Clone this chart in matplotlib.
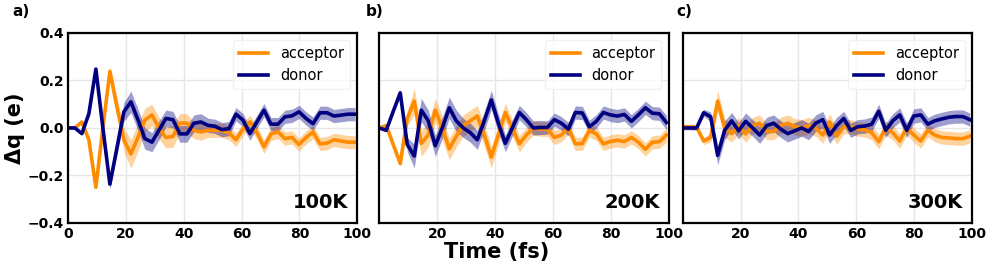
import numpy as np
import matplotlib
matplotlib.use('Agg')
import matplotlib.pyplot as plt

# time axis: 42 snapshots, 100 a.u. (2.42 fs) apart
time = np.arange(42) * 2.42

acc_100 = [0.0, 0.0, 0.025, -0.05, -0.25, 0.0, 0.238, 0.09, -0.05, -0.11,
           -0.04, 0.033, 0.055, 0.0, -0.04, -0.036, 0.021, 0.02, -0.01, -0.017,
           -0.01, -0.01, -0.01, -0.02, -0.05, -0.005, 0.026, -0.02, -0.08, -0.025,
           -0.017, -0.045, -0.04, -0.07, -0.04, -0.017, -0.067, -0.064, -0.05, -0.055,
           -0.06, -0.06]
don_100 = [0.0, 0.0, -0.024, 0.06, 0.248, 0.0, -0.237, -0.085, 0.068, 0.11,
           0.035, -0.045, -0.06, -0.01, 0.04, 0.035, -0.025, -0.025, 0.02, 0.025,
           0.011, 0.007, -0.007, -0.003, 0.058, 0.033, -0.024, 0.026, 0.075, 0.016,
           0.016, 0.047, 0.051, 0.068, 0.04, 0.018, 0.064, 0.064, 0.05, 0.054,
           0.058, 0.058]
acc_200 = [0.0, 0.01, -0.07, -0.15, 0.04, 0.113, -0.065, -0.03, 0.075, 0.0,
           -0.088, -0.035, 0.01, 0.03, 0.05, -0.03, -0.123, -0.03, 0.065, 0.0,
           -0.067, -0.03, 0.0, -0.005, -0.005, -0.04, -0.03, 0.0, -0.067, -0.066,
           -0.01, -0.025, -0.067, -0.057, -0.052, -0.057, -0.04, -0.06, -0.09, -0.06,
           -0.058, -0.03]
don_200 = [0.0, -0.01, 0.07, 0.148, -0.07, -0.118, 0.075, 0.03, -0.075, 0.0,
           0.085, 0.03, 0.0, -0.02, -0.05, 0.03, 0.118, 0.02, -0.065, 0.0,
           0.065, 0.035, 0.0, 0.002, 0.002, 0.035, 0.02, -0.005, 0.065, 0.063,
           0.005, 0.028, 0.065, 0.055, 0.05, 0.057, 0.028, 0.055, 0.085, 0.062,
           0.06, 0.023]
acc_300 = [0.005, 0.005, 0.003, -0.055, -0.04, 0.113, 0.0, -0.024, 0.01, -0.025,
           0.01, 0.02, -0.014, -0.015, 0.01, 0.02, 0.005, 0.0, 0.01, 0.0,
           -0.03, 0.025, -0.035, 0.005, 0.005, -0.005, -0.008, -0.02, -0.058, 0.0,
           -0.02, -0.055, 0.0, -0.03, -0.055, -0.01, -0.03, -0.04, -0.042, -0.045,
           -0.045, -0.035]
don_300 = [0.0, 0.0, 0.0, 0.064, 0.047, -0.116, -0.01, 0.03, -0.012, 0.028,
           0.0, -0.03, 0.01, 0.02, -0.005, -0.024, -0.012, 0.0, -0.015, 0.02,
           0.035, -0.03, 0.01, 0.04, -0.01, 0.005, 0.008, 0.016, 0.07, -0.01,
           0.03, 0.055, -0.01, 0.05, 0.055, 0.016, 0.03, 0.038, 0.045, 0.048,
           0.048, 0.035]

# spread (std) of the ensemble
acc_100_err = [0.004, 0.004, 0.005, 0.006, 0.01, 0.02, 0.025, 0.04, 0.05, 0.06,
               0.06, 0.05, 0.045, 0.045, 0.045, 0.045, 0.04, 0.04, 0.035, 0.035,
               0.03, 0.03, 0.03, 0.03, 0.028, 0.028, 0.028, 0.028, 0.028, 0.028,
               0.028, 0.028, 0.028, 0.028, 0.028, 0.028, 0.028, 0.028, 0.028, 0.028,
               0.028, 0.028]
don_100_err = [0.004, 0.004, 0.005, 0.006, 0.01, 0.015, 0.02, 0.03, 0.04, 0.045,
               0.045, 0.045, 0.04, 0.04, 0.035, 0.035, 0.035, 0.035, 0.035, 0.035,
               0.03, 0.03, 0.03, 0.03, 0.028, 0.028, 0.028, 0.028, 0.028, 0.028,
               0.028, 0.028, 0.028, 0.028, 0.028, 0.028, 0.028, 0.028, 0.028, 0.028,
               0.028, 0.028]
acc_200_err = [0.004, 0.005, 0.008, 0.012, 0.03, 0.055, 0.055, 0.05, 0.05, 0.05,
               0.045, 0.045, 0.045, 0.045, 0.045, 0.045, 0.045, 0.04, 0.04, 0.035,
               0.035, 0.03, 0.03, 0.03, 0.03, 0.03, 0.028, 0.028, 0.028, 0.028,
               0.028, 0.028, 0.028, 0.028, 0.028, 0.028, 0.028, 0.028, 0.028, 0.028,
               0.028, 0.03]
don_200_err = [0.004, 0.005, 0.008, 0.012, 0.03, 0.05, 0.05, 0.045, 0.045, 0.045,
               0.045, 0.045, 0.04, 0.04, 0.04, 0.04, 0.04, 0.04, 0.035, 0.035,
               0.03, 0.03, 0.03, 0.03, 0.028, 0.028, 0.028, 0.028, 0.028, 0.028,
               0.028, 0.028, 0.028, 0.028, 0.028, 0.028, 0.028, 0.028, 0.028, 0.028,
               0.028, 0.03]
acc_300_err = [0.008, 0.008, 0.01, 0.015, 0.02, 0.045, 0.04, 0.035, 0.035, 0.035,
               0.035, 0.035, 0.035, 0.035, 0.035, 0.035, 0.035, 0.035, 0.035, 0.035,
               0.035, 0.035, 0.035, 0.03, 0.03, 0.03, 0.03, 0.03, 0.03, 0.03,
               0.03, 0.03, 0.03, 0.03, 0.03, 0.028, 0.028, 0.028, 0.028, 0.028,
               0.028, 0.028]
don_300_err = [0.008, 0.008, 0.01, 0.015, 0.02, 0.04, 0.04, 0.035, 0.035, 0.035,
               0.035, 0.035, 0.035, 0.035, 0.035, 0.035, 0.035, 0.035, 0.035, 0.035,
               0.035, 0.035, 0.035, 0.03, 0.03, 0.03, 0.03, 0.03, 0.03, 0.03,
               0.03, 0.03, 0.03, 0.03, 0.03, 0.028, 0.028, 0.028, 0.028, 0.028,
               0.028, 0.028]

panels = [('a)', '100K', acc_100, acc_100_err, don_100, don_100_err),
          ('b)', '200K', acc_200, acc_200_err, don_200, don_200_err),
          ('c)', '300K', acc_300, acc_300_err, don_300, don_300_err)]

acc_color = '#ff8c00'
don_color = '#000080'

fig = plt.figure(figsize=(9.98, 2.66), dpi=100)
lefts = [0.068, 0.380, 0.684]
tag_x = [0.012, 0.366, 0.678]

for k, (tag, temp, acc, acc_err, don, don_err) in enumerate(panels):
    ax = fig.add_axes([lefts[k], 0.162, 0.290, 0.714])
    acc = np.array(acc)
    don = np.array(don)
    acc_err = np.array(acc_err)
    don_err = np.array(don_err)
    ax.fill_between(time, acc - acc_err, acc + acc_err, color=acc_color, alpha=0.38, lw=0)
    ax.fill_between(time, don - don_err, don + don_err, color=don_color, alpha=0.38, lw=0)
    ax.plot(time, acc, color=acc_color, lw=2.6, label='acceptor')
    ax.plot(time, don, color=don_color, lw=2.6, label='donor')
    ax.set_xlim(0, 100)
    ax.set_ylim(-0.4, 0.4)
    ax.set_yticks([-0.4, -0.2, 0.0, 0.2, 0.4])
    ax.set_xticks([0, 20, 40, 60, 80, 100])
    ax.grid(True, color='#e6e6e6', lw=1)
    ax.set_axisbelow(True)
    for sp in ax.spines.values():
        sp.set_linewidth(1.6)
        sp.set_color('black')
    ax.tick_params(length=0, labelsize=10, pad=3)
    for lab in ax.get_xticklabels() + ax.get_yticklabels():
        lab.set_fontweight('bold')
    if k == 0:
        ax.set_ylabel('Δq (e)', fontsize=15, fontweight='bold', labelpad=2)
    else:
        ax.set_yticklabels([])
        ax.set_xticklabels(['', '20', '40', '60', '80', '100'], fontweight='bold')
    ax.legend(loc='upper right', fontsize=10.5, handlelength=2.0, borderpad=0.4,
              framealpha=0.8, edgecolor='#eeeeee', fancybox=True)
    ax.text(0.97, 0.06, temp, transform=ax.transAxes, ha='right', va='bottom',
            fontsize=14, fontweight='bold')
    fig.text(tag_x[k], 0.93, tag, fontsize=11, fontweight='bold', va='bottom')

fig.text(0.498, 0.015, 'Time (fs)', ha='center', va='bottom', fontsize=15, fontweight='bold')

fig.savefig('out.png', dpi=100)
